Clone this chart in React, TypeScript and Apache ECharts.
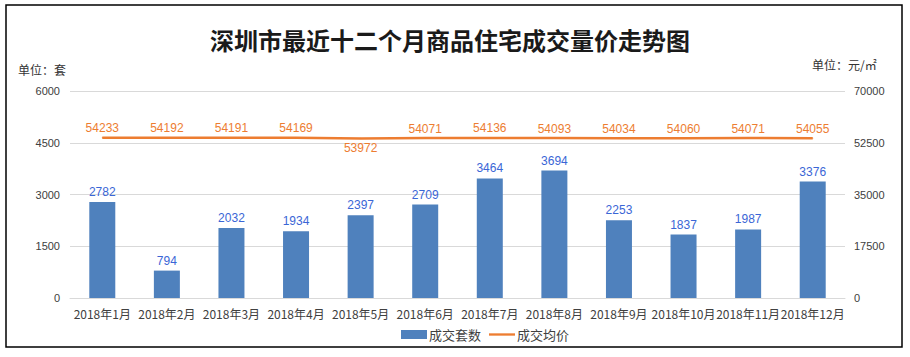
import React, { useEffect, useRef } from "react";
import * as echarts from "echarts";

const categories = ["2018年1月", "2018年2月", "2018年3月", "2018年4月", "2018年5月", "2018年6月", "2018年7月", "2018年8月", "2018年9月", "2018年10月", "2018年11月", "2018年12月"];
const volumes = [2782, 794, 2032, 1934, 2397, 2709, 3464, 3694, 2253, 1837, 1987, 3376];
const prices = [54233, 54192, 54191, 54169, 53972, 54071, 54136, 54093, 54034, 54060, 54071, 54055];
const belowLabels = [4];

export default function App() {
  const ref = useRef<HTMLDivElement>(null);
  useEffect(() => {
    const chart = echarts.init(ref.current!, null, { renderer: "svg" });
    chart.setOption({
      animation: false,
      backgroundColor: "#fff",
      title: {
        text: "深圳市最近十二个月商品住宅成交量价走势图",
        left: 205,
        top: 22,
        textStyle: { fontFamily: "Noto Sans CJK SC", fontSize: 24, fontWeight: "bold", color: "#1a1a1a" },
      },
      graphic: [
        { type: "rect", shape: { x: 6, y: 5, width: 896, height: 342 }, style: { fill: "none", stroke: "#000", lineWidth: 1.5 } },
        { type: "text", left: 18, top: 63, style: { text: "单位：套", font: "12px 'Noto Sans CJK SC'", fill: "#333" } },
        { type: "text", left: 812, top: 58, style: { text: "单位：元/㎡", font: "12px 'Noto Sans CJK SC'", fill: "#333" } },
      ],
      legend: {
        bottom: 11,
        left: 396,
        itemGap: 8,
        itemWidth: 26,
        itemHeight: 9,
        textStyle: { fontFamily: "Noto Sans CJK SC", fontSize: 13, color: "#404040", padding: [0, 0, 0, -3] },
        data: [
          { name: "成交套数", icon: "rect" },
          { name: "成交均价", icon: "path://M0,0 L100,0 L100,9 L0,9 Z" },
        ],
      },
      grid: { left: 70, right: 65, top: 91, bottom: 59 },
      xAxis: {
        type: "category",
        data: categories,
        axisLine: { lineStyle: { color: "#d9d9d9" } },
        axisTick: { show: false },
        axisLabel: { interval: 0, color: "#404040", fontSize: 12, fontFamily: "Noto Sans CJK SC", margin: 9 },
      },
      yAxis: [
        {
          type: "value", min: 0, max: 6000, interval: 1500,
          axisLine: { show: false }, axisTick: { show: false },
          axisLabel: { color: "#404040", fontSize: 11, fontFamily: "Liberation Sans", margin: 10, formatter: (v: number) => String(v) },
          splitLine: { lineStyle: { color: "#d9d9d9" } },
        },
        {
          type: "value", min: 0, max: 70000, interval: 17500,
          axisLine: { show: false }, axisTick: { show: false },
          axisLabel: { color: "#404040", fontSize: 11, fontFamily: "Liberation Sans", margin: 9, formatter: (v: number) => String(v) },
          splitLine: { show: false },
        },
      ],
      series: [
        {
          name: "成交套数",
          type: "bar",
          data: volumes,
          barWidth: 26,
          itemStyle: { color: "#4f81bd" },
          label: { show: true, position: "top", color: "#3a66d6", fontSize: 12, fontFamily: "Liberation Sans", distance: 4 },
        },
        {
          name: "成交均价",
          type: "line",
          yAxisIndex: 1,
          data: prices.map((v, i) => ({
            value: v,
            label: { position: belowLabels.includes(i) ? "bottom" : "top" },
          })),
          symbol: "circle",
          symbolSize: 1,
          showSymbol: true,
          lineStyle: { color: "#ed7d31", width: 2.5 },
          itemStyle: { color: "#ed7d31" },
          label: { show: true, position: "top", color: "#ed7d31", fontSize: 12, fontFamily: "Liberation Sans", distance: 3 },
        },
      ],
    });
    return () => chart.dispose();
  }, []);
  return <div ref={ref} style={{ position: "fixed", left: 0, top: 0, width: 910, height: 357 }} />;
}
